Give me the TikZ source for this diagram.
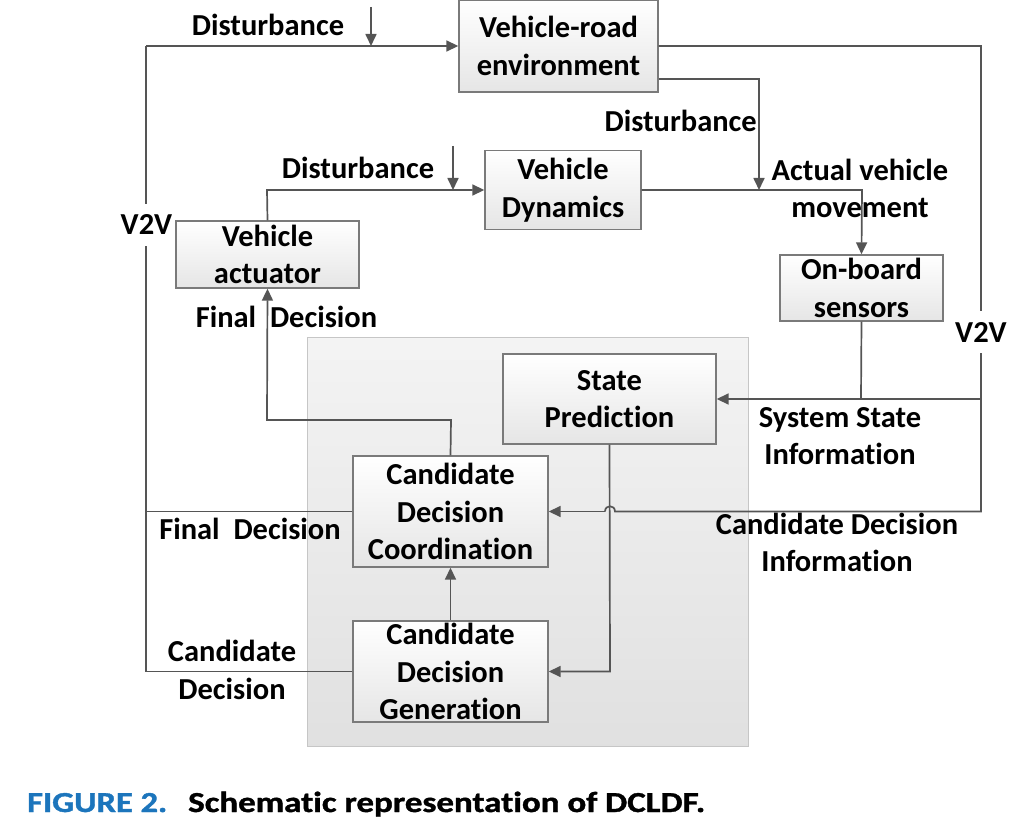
\documentclass[tikz,border=0pt]{standalone}
\usepackage{fontspec}
\setmainfont{Carlito}[Ligatures={NoCommon,NoContextual}]
\newfontfamily\capfam{Carlito}[Ligatures={NoCommon,NoContextual},BoldFeatures={FakeBold=1.2}]
\usetikzlibrary{arrows.meta,calc}
\definecolor{lnc}{HTML}{555555}
\definecolor{bdc}{HTML}{7A7A7A}
\definecolor{capblue}{HTML}{1C75BC}
\newcommand\dfont{\fontsize{30.5}{37.5}\selectfont\bfseries}
\newcommand\cfont{\capfam\fontsize{29}{32}\selectfont\bfseries}
\tikzset{
  blk/.style={draw=bdc, line width=1.4pt, top color=white, bottom color=gray!20,
    align=center, inner sep=0pt, font=\dfont},
  lbl/.style={align=center, font=\dfont, inner sep=0pt},
  ln/.style={draw=lnc, line width=1.7pt},
  arr/.style={ln, -{Triangle[length=12pt,width=11pt]}},
  panelsty/.style={draw=gray!45, line width=1pt, top color=gray!9, bottom color=gray!24,
    minimum width=441pt, minimum height=408pt, inner sep=0pt},
}
\begin{document}
\begin{tikzpicture}[x=1pt,y=-1pt]
\useasboundingbox (0,0) rectangle (1021,821);

% background panel
\node[panelsty] (panel) at (527.5,542) {};

% blocks
\node[blk, minimum width=199pt, minimum height=92pt] (env) at (558.5,46) {Vehicle-road\\environment};
\node[blk, minimum width=156pt, minimum height=79pt] (vd) at (563,190) {Vehicle\\Dynamics};
\node[blk, minimum width=163pt, minimum height=66pt] (obs) at (861.5,288) {On-board\\sensors};
\node[blk, minimum width=183pt, minimum height=67pt] (va) at (267.5,254.5) {Vehicle\\actuator};
\node[blk, minimum width=213pt, minimum height=90pt] (sp) at (609.5,399) {State\\Prediction};
\node[blk, minimum width=195pt, minimum height=111pt] (cdc) at (450.5,511.5) {Candidate\\Decision\\Coordination};
\node[blk, minimum width=195pt, minimum height=101pt] (cdg) at (450.5,671.5) {Candidate\\Decision\\Generation};

% helper coordinates
\coordinate (ltop) at (146,46);
\coordinate (lmid) at (146,511.5);
\coordinate (lbot) at (146,671.5);
\coordinate (d1s) at (371,7);
\coordinate (d1e) at (371,46);
\coordinate (r1) at (981,46);
\coordinate (r2) at (981,511.5);
\coordinate (rs) at (981,399);
\coordinate (m1) at (759,79);
\coordinate (m2) at (759,190);
\coordinate (n1) at (862,190);
\coordinate (a1) at (267,190);
\coordinate (d2s) at (453,146);
\coordinate (d2e) at (453,190);
\coordinate (f1) at (451,420);
\coordinate (f2) at (267,420);
\coordinate (s1) at (610,671.5);
\coordinate (o1) at (861,399);
\coordinate (h1) at (615,511.5);
\coordinate (h2) at (605,511.5);

% left V2V loop
\draw[ln] (cdg.west) -- (lbot) -- (ltop);
\draw[ln] (cdc.west) -- (lmid);
\draw[arr] (ltop) -- (env.west);
\draw[arr] (d1s) -- (d1e);

% right V2V loop
\draw[ln] (env.east) -- (r1) -- (r2) -- (h1)
  .. controls ($(h1)+(0,-7)$) and ($(h2)+(0,-7)$) .. (h2);
\draw[arr] (h2) -- (cdc.east);
\draw[arr] (rs) -- (sp.east);
\draw[ln] (obs.south) -- (o1);

% environment disturbance
\draw[arr] ([yshift=-33pt]env.east) -- (m1) -- (m2);

% dynamics to sensors
\draw[arr] (vd.east) -- (n1) -- (obs.north);

% actuator to dynamics
\draw[arr] (va.north) -- (a1) -- (vd.west);
\draw[arr] (d2s) -- (d2e);

% final decision to actuator
\draw[arr] (cdc.north) -- (f1) -- (f2) -- (va.south);

% generation to coordination
\draw[arr] (cdg.north) -- (cdc.south);

% state prediction to generation
\draw[arr] (sp.south) -- (s1) -- (cdg.east);

% labels
\node[lbl, anchor=base] (ldist1) at (268,36) {Disturbance};
\node[lbl, anchor=base] (ldist2) at (358,179) {Disturbance};
\node[lbl, anchor=base east] (ldist3) at (757,132) {Disturbance};
\node[lbl] (lavm) at (860,188.5) {Actual vehicle\\movement};
\node[lbl, anchor=base, fill=white, inner xsep=1pt, inner ysep=11pt] (lv2vl) at (146.5,235) {V2V};
\node[lbl, anchor=base, fill=white, inner xsep=1pt, inner ysep=11pt] (lv2vr) at (981,342) {V2V};
\node[lbl, anchor=base] (lfd1) at (286.5,328) {Final\ \ Decision};
\node[lbl] (lssi) at (840,436) {System State\\Information};
\node[lbl] (lcdi) at (837,542.5) {Candidate Decision\\Information};
\node[lbl, anchor=base] (lfd2) at (250,539) {Final\ \ Decision};
\node[lbl] (lcd) at (232,670) {Candidate\\Decision};

% caption
\node[anchor=base west, inner sep=0pt, font=\cfont, text=capblue] (cap1) at (27,812)
  {\resizebox{140pt}{\height}{FIGURE 2.}};
\node[anchor=base west, inner sep=0pt, font=\cfont] (cap2) at (188,812)
  {\resizebox{517pt}{\height}{Schematic representation of DCLDF.}};
\end{tikzpicture}
\end{document}
